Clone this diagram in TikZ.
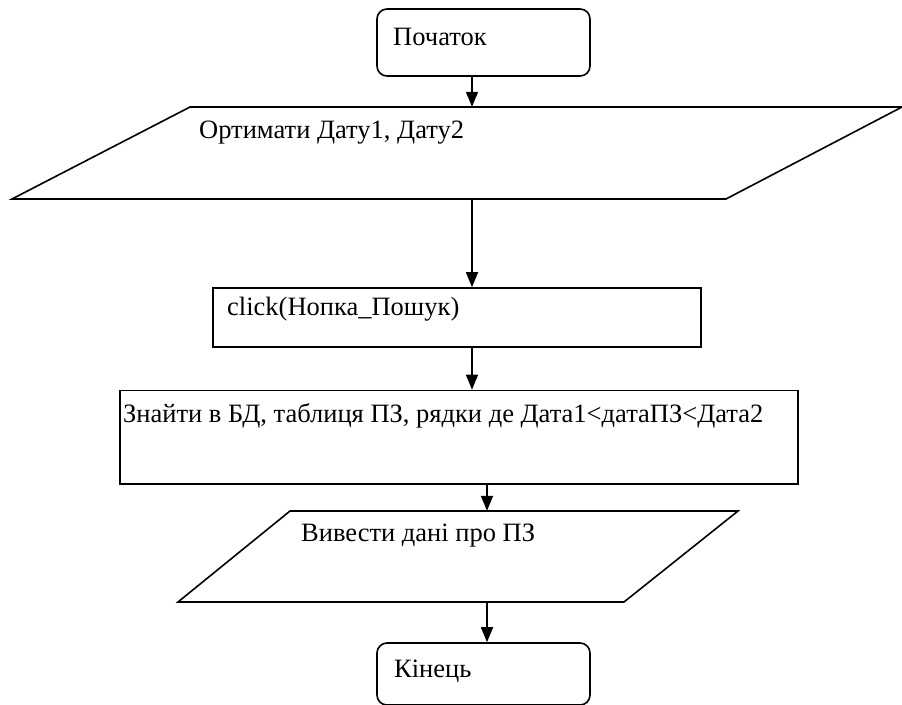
\documentclass[tikz,border=0pt]{standalone}
\usepackage{fontspec}
\setmainfont{Liberation Serif}
\usetikzlibrary{arrows.meta,calc}
\tikzset{
  box/.style={draw=black, line width=1.6pt, inner sep=0pt, anchor=center},
  term/.style={box, rounded corners=10pt},
  ghost/.style={draw=none, inner sep=0pt, anchor=center},
  lbl/.style={anchor=base west, inner sep=0pt, font=\fontsize{26.5}{30}\selectfont},
  flow/.style={draw=black, line width=1.6pt, -{Triangle[length=15pt,width=12pt]}},
  shp/.style={draw=black, line width=1.6pt, line join=miter}
}
\begin{document}
\begin{tikzpicture}[x=1pt,y=-1pt]
\useasboundingbox (0,0) rectangle (902,704);
% start
\node[term, minimum width=213pt, minimum height=67pt] (start) at (483.5,42.5) {};
\node[lbl] (tstart) at (393,45) {Початок};
% input parallelogram
\node[ghost, minimum width=890pt, minimum height=92pt] (in1) at (457,153) {};
\draw[shp] (190,107) -- (902,107) -- (726,199) -- (12,199) -- cycle;
\node[lbl] (tin1) at (199,138) {Ортимати Дату1, Дату2};
% click box
\node[box, minimum width=488pt, minimum height=59pt] (click) at (457,317.5) {};
\node[lbl] (tclick) at (227,315) {click(Нопка\_Пошук)};
% find box
\node[box, minimum width=678pt, minimum height=93.5pt] (find) at (459,437.25) {};
\node[lbl] (tfind) at (123,422) {Знайти в БД, таблиця ПЗ, рядки де Дата1<датаПЗ<Дата2};
% output parallelogram
\node[ghost, minimum width=560pt, minimum height=91pt] (out) at (458,556.5) {};
\draw[shp] (290,511) -- (738,511) -- (624,602) -- (178,602) -- cycle;
\node[lbl] (tout) at (301,541) {Вивести дані про ПЗ};
% end
\node[term, minimum width=213pt, minimum height=62pt] (end) at (483.5,674) {};
\node[lbl] (tend) at (394,677) {Кінець};
% connectors
\coordinate (a1) at (472,0);
\coordinate (a2) at (487,0);
\draw[flow] (start.south -| a1) -- (in1.north -| a1);
\draw[flow] (in1.south -| a1) -- (click.north -| a1);
\draw[flow] (click.south -| a1) -- (find.north -| a1);
\draw[flow] (find.south -| a2) -- (out.north -| a2);
\draw[flow] (out.south -| a2) -- (end.north -| a2);
\end{tikzpicture}
\end{document}
